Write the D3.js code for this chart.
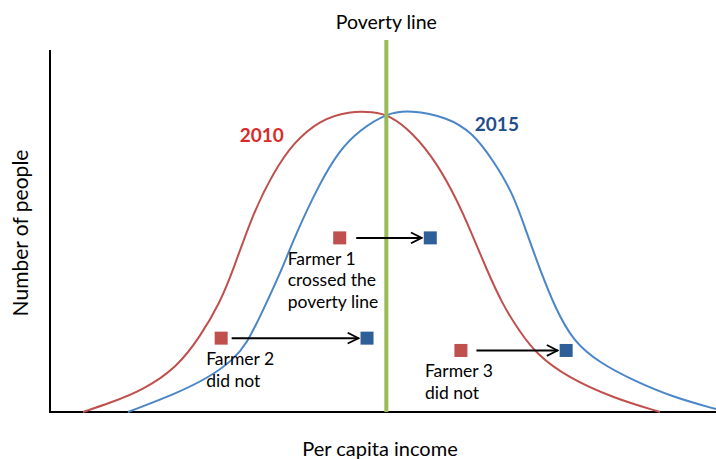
<!DOCTYPE html>
<html><head><meta charset="utf-8">
<script src="https://cdn.jsdelivr.net/npm/d3@7"></script>
<style>html,body{margin:0;padding:0;background:#fff;}svg{display:block;}</style>
</head><body>
<svg id="chart" width="716" height="459"></svg>
<script>
// Income (x) and number of people (y) in arbitrary units 0-100
const curve2010 = [[4.95,0],[9.0,2.5],[14.0,6.1],[19.1,12.4],[22.5,20.7],[25.5,30.1],[27.5,39.2],[30.5,55.0],[33.5,66.0],[36.5,74.3],[40.5,80.7],[45.0,83.1],[48.5,82.9],[51.0,82.0],[54.5,77.1],[58.1,68.8],[61.1,58.6],[63.1,50.3],[65.6,39.2],[68.0,29.5],[70.6,22.0],[73.1,15.9],[77.6,9.7],[84.5,3.9],[91.6,0]];
const curve2015 = [[11.7,0],[19.1,5.2],[24.0,9.7],[27.5,14.4],[29.6,19.1],[31.5,26.2],[34.8,39.2],[36.5,47.5],[40.5,63.3],[43.5,72.4],[46.5,77.9],[50.6,82.6],[54.1,83.4],[59.6,81.5],[63.5,77.1],[66.5,69.6],[69.5,60.5],[71.6,49.4],[73.6,39.2],[75.8,29.0],[78.5,19.6],[82.6,13.5],[87.5,8.8],[93.5,4.1],[100,0.8]];
const povertyLine = 50.5;
const farmerNames = ["Farmer 1","Farmer 2","Farmer 3"];
const income2010 = [43.5, 25.7, 61.7];
const income2015 = [57.1, 47.6, 77.5];
const farmerPeople = [48.1, 20.4, 17.0];
const farmerLabels = [["Farmer 1","crossed the","poverty line"],["Farmer 2","did not"],["Farmer 3","did not"]];
const yearLabels = [{t:"2010", x:31.8, y:74.5},{t:"2015", x:67.1, y:77.5}];

const svg = d3.select("#chart");
const x = d3.scaleLinear().domain([0,100]).range([50,716]);
const y = d3.scaleLinear().domain([0,100]).range([412,50]);
const font = "Lato, 'Open Sans', sans-serif";
const redM = "#c0504d", blueM = "#2f5f98";

// axes
svg.append("line").attr("x1",x(0)).attr("x2",x(0)).attr("y1",y(0)+1).attr("y2",y(100)).attr("stroke","#000").attr("stroke-width",2);
svg.append("line").attr("x1",x(0)-1).attr("x2",x(100)).attr("y1",y(0)).attr("y2",y(0)).attr("stroke","#000").attr("stroke-width",2);

const line = d3.line().x(d=>x(d[0])).y(d=>y(d[1])).curve(d3.curveBasis);
svg.append("path").attr("d",line(curve2010)).attr("fill","none").attr("stroke","#c0504d").attr("stroke-width",2);
svg.append("path").attr("d",line(curve2015)).attr("fill","none").attr("stroke","#4a86c8").attr("stroke-width",2);

// poverty line
svg.append("line").attr("x1",x(povertyLine)).attr("x2",x(povertyLine)).attr("y1",40).attr("y2",y(0)).attr("stroke","#9bbb59").attr("stroke-width",4);
svg.append("text").attr("x",x(povertyLine)).attr("y",29).attr("text-anchor","middle").attr("font-family",font).attr("font-size",19.5).attr("fill","#000").text("Poverty line");

// axis titles
svg.append("text").attr("transform","translate(28,233) rotate(-90)").attr("text-anchor","middle").attr("font-family",font).attr("font-size",21).text("Number of people");
svg.append("text").attr("x",380).attr("y",456).attr("text-anchor","middle").attr("font-family",font).attr("font-size",20).text("Per capita income");

// year labels
svg.selectAll(".yl").data(yearLabels).join("text").attr("x",d=>x(d.x)).attr("y",d=>y(d.y)).attr("text-anchor","middle")
  .attr("font-family",font).attr("font-size",19).attr("font-weight","bold").attr("fill",(d,i)=>i?"#1f4e8c":"#d92a2a").text(d=>d.t);

// arrow marker
const defs = svg.append("defs");
defs.append("marker").attr("id","arr").attr("viewBox","0 0 12 12").attr("refX",11).attr("refY",6).attr("markerWidth",6.5).attr("markerHeight",6.5).attr("orient","auto")
  .append("path").attr("d","M1,1 L11,6 L1,11").attr("fill","none").attr("stroke","#000").attr("stroke-width",1.6);

const s = 13;
const gaps = [10, 4, 9];
const labelOffsets = [52, 15, 36];
farmerNames.forEach((n,i)=>{
  const yy = y(farmerPeople[i]);
  svg.append("line").attr("x1",x(income2010[i])+s/2+gaps[i]).attr("x2",x(income2015[i])-s/2-2).attr("y1",yy).attr("y2",yy)
    .attr("stroke","#000").attr("stroke-width",2).attr("marker-end","url(#arr)");
  svg.append("rect").attr("x",x(income2010[i])-s/2).attr("y",yy-s/2).attr("width",s).attr("height",s).attr("fill",redM);
  svg.append("rect").attr("x",x(income2015[i])-s/2).attr("y",yy-s/2).attr("width",s).attr("height",s).attr("fill",blueM);
  const t = svg.append("text").attr("font-family",font).attr("font-size",17.5).attr("fill","#000");
  farmerLabels[i].forEach((l,j)=>{
    t.append("tspan").attr("x",x(income2010[i])-labelOffsets[i]).attr("y",yy+27+j*21.5).text(l);
  });
});
</script>
</body></html>
